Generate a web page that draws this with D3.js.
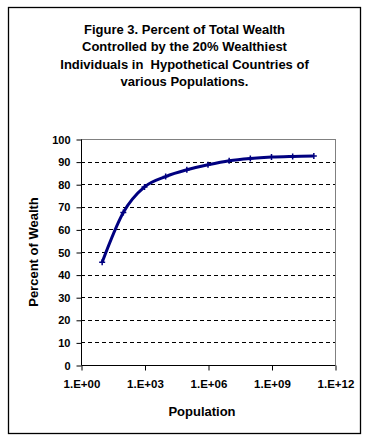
<!DOCTYPE html>
<html>
<head>
<meta charset="utf-8">
<script src="https://cdn.jsdelivr.net/npm/d3@7"></script>
<style>
  html, body { margin: 0; padding: 0; background: #fff; }
  svg { display: block; }
  text { font-family: "Liberation Sans", Arial, sans-serif; font-weight: bold; fill: #000; }
</style>
</head>
<body>
<script>
// ---- data ----
const titleLines = [
  "Figure 3. Percent of Total Wealth",
  "Controlled by the 20% Wealthiest",
  "Individuals in  Hypothetical Countries of",
  "various Populations."
];
const populations = [1e1, 1e2, 1e3, 1e4, 1e5, 1e6, 1e7, 1e8, 1e9, 1e10, 1e11];
const percentOfWealth = [45.5, 67.5, 78.8, 83.4, 86.4, 88.6, 90.4, 91.4, 92.0, 92.3, 92.5];
const xTickValues = [1e0, 1e3, 1e6, 1e9, 1e12];
const xTickLabels = ["1.E+00", "1.E+03", "1.E+06", "1.E+09", "1.E+12"];
const yTickValues = [0, 10, 20, 30, 40, 50, 60, 70, 80, 90, 100];
const xAxisTitle = "Population";
const yAxisTitle = "Percent of Wealth";

// ---- layout ----
const W = 369, H = 440;
const plot = { left: 81, right: 335, top: 139, bottom: 365 };

const svg = d3.select("body").append("svg").attr("width", W).attr("height", H);

// outer border
svg.append("rect")
  .attr("x", 8.5).attr("y", 7.5).attr("width", 352).attr("height", 426)
  .attr("fill", "#fff").attr("stroke", "#000").attr("stroke-width", 1.3);

// title
const title = svg.append("text").attr("text-anchor", "middle")
  .style("font-size", "13px").style("white-space", "pre");
titleLines.forEach((t, i) => {
  title.append("tspan").attr("x", 184.5).attr("y", 34 + i * 17.3).text(t);
});

const x = d3.scaleLog().domain([1, 1e12]).range([plot.left, plot.right]);
const y = d3.scaleLinear().domain([0, 100]).range([plot.bottom, plot.top]);

// gridlines (dashed) for 10..90
svg.append("g").selectAll("line")
  .data(yTickValues.filter(v => v > 0 && v < 100))
  .join("line")
  .attr("x1", plot.left).attr("x2", plot.right)
  .attr("y1", d => Math.round(y(d)) + 0.5).attr("y2", d => Math.round(y(d)) + 0.5)
  .attr("stroke", "#000").attr("stroke-width", 1)
  .attr("stroke-dasharray", "4,3");

// plot area border top & right (gray)
svg.append("line").attr("x1", plot.left).attr("x2", plot.right + 0.5)
  .attr("y1", plot.top + 0.5).attr("y2", plot.top + 0.5)
  .attr("stroke", "#808080").attr("stroke-width", 1);
svg.append("line").attr("x1", plot.right + 0.5).attr("x2", plot.right + 0.5)
  .attr("y1", plot.top).attr("y2", plot.bottom)
  .attr("stroke", "#808080").attr("stroke-width", 1);

// y axis
const yAxis = d3.axisLeft(y).tickValues(yTickValues).tickSize(5).tickPadding(6)
  .tickFormat(d3.format("d"));
const gy = svg.append("g").attr("transform", `translate(${plot.left + 0.5},0.5)`).call(yAxis);
gy.selectAll("text").style("font-size", "11px").style("font-family", '"Liberation Sans", Arial, sans-serif').style("font-weight", "bold");
gy.selectAll("line, path").attr("stroke", "#000");
gy.select(".domain").attr("d", `M0,${plot.top}V${plot.bottom}`);

// x axis
const xAxis = d3.axisBottom(x).tickValues(xTickValues).tickSize(5).tickPadding(9)
  .tickFormat((d, i) => xTickLabels[i]);
const gx = svg.append("g").attr("transform", `translate(0.5,${plot.bottom + 0.5})`).call(xAxis);
gx.selectAll("text").style("font-size", "11.5px").style("font-family", '"Liberation Sans", Arial, sans-serif').style("font-weight", "bold");
gx.selectAll("line, path").attr("stroke", "#000");
gx.select(".domain").attr("d", `M${plot.left},0H${plot.right}`);

// axis titles
svg.append("text").attr("text-anchor", "middle")
  .attr("x", (plot.left + plot.right) / 2 - 6).attr("y", 416)
  .style("font-size", "13px").text(xAxisTitle);
svg.append("text").attr("text-anchor", "middle")
  .attr("transform", `translate(38,${(plot.top + plot.bottom) / 2}) rotate(-90)`)
  .style("font-size", "13px").text(yAxisTitle);

// series
const data = populations.map((p, i) => ({ p, v: percentOfWealth[i] }));
const line = d3.line().x(d => x(d.p)).y(d => y(d.v)).curve(d3.curveCatmullRom.alpha(0));
svg.append("path").datum(data).attr("d", line)
  .attr("fill", "none").attr("stroke", "#000080").attr("stroke-width", 3)
  .attr("stroke-linejoin", "round");

// markers (+)
const m = 3;
svg.append("g").selectAll("path").data(data).join("path")
  .attr("d", d => {
    const cx = x(d.p), cy = y(d.v);
    return `M${cx - m},${cy}H${cx + m}M${cx},${cy - m}V${cy + m}`;
  })
  .attr("stroke", "#000080").attr("stroke-width", 1.5).attr("fill", "none");
</script>
</body>
</html>
